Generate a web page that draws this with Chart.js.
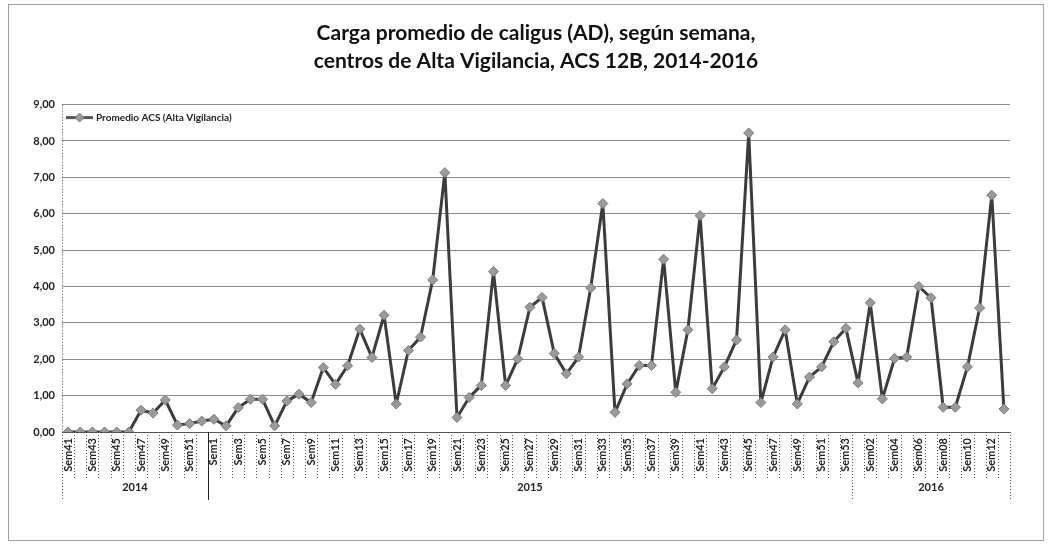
<!DOCTYPE html>
<html>
<head>
<meta charset="utf-8">
<script src="https://cdn.jsdelivr.net/npm/chart.js@4.4.1/dist/chart.umd.min.js"></script>
<style>
  html, body { margin: 0; padding: 0; background: #fff; }
  #wrap { width: 1053px; height: 547px; }
</style>
</head>
<body>
<div id="wrap"><canvas id="lineChart" width="1053" height="547"></canvas></div>
<script>
const WEEKS = [
  'Sem41', 'Sem42', 'Sem43', 'Sem44', 'Sem45', 'Sem46', 'Sem47', 'Sem48', 'Sem49', 'Sem50', 'Sem51', 'Sem52',
  'Sem1', 'Sem2', 'Sem3', 'Sem4', 'Sem5', 'Sem6', 'Sem7', 'Sem8', 'Sem9', 'Sem10', 'Sem11', 'Sem12', 'Sem13',
  'Sem14', 'Sem15', 'Sem16', 'Sem17', 'Sem18', 'Sem19', 'Sem20', 'Sem21', 'Sem22', 'Sem23', 'Sem24', 'Sem25',
  'Sem26', 'Sem27', 'Sem28', 'Sem29', 'Sem30', 'Sem31', 'Sem32', 'Sem33', 'Sem34', 'Sem35', 'Sem36', 'Sem37',
  'Sem38', 'Sem39', 'Sem40', 'Sem41', 'Sem42', 'Sem43', 'Sem44', 'Sem45', 'Sem46', 'Sem47', 'Sem48', 'Sem49',
  'Sem50', 'Sem51', 'Sem52', 'Sem53',
  'Sem01', 'Sem02', 'Sem03', 'Sem04', 'Sem05', 'Sem06', 'Sem07', 'Sem08', 'Sem09', 'Sem10', 'Sem11', 'Sem12', 'Sem13'
];
const YEARS = ['2014', '2015', '2016'];
const WEEKS_PER_YEAR = [12, 53, 13];
const PROMEDIO_ACS = [
  0, 0, 0, 0, 0, 0, 0.60, 0.52, 0.88, 0.19, 0.23, 0.30,
  0.35, 0.17, 0.67, 0.90, 0.90, 0.17, 0.85, 1.04, 0.81, 1.77, 1.31, 1.82, 2.83,
  2.05, 3.21, 0.77, 2.24, 2.61, 4.18, 7.13, 0.40, 0.95, 1.28, 4.41, 1.28,
  2.01, 3.43, 3.70, 2.16, 1.60, 2.06, 3.96, 6.28, 0.54, 1.32, 1.83, 1.83,
  4.75, 1.09, 2.81, 5.95, 1.19, 1.79, 2.53, 8.22, 0.81, 2.06, 2.81, 0.77,
  1.51, 1.79, 2.48, 2.85,
  1.35, 3.55, 0.91, 2.02, 2.06, 4.00, 3.69, 0.68, 0.68, 1.79, 3.41, 6.51, 0.63
];
const Y_TICKS = [0, 1, 2, 3, 4, 5, 6, 7, 8, 9];
const TITLE = ['Carga promedio de caligus (AD), según semana,', 'centros de Alta Vigilancia, ACS 12B, 2014-2016'];
const SERIES_NAME = 'Promedio ACS (Alta Vigilancia)';

const FONT = 'Lato, "Open Sans", sans-serif';

// frame, legend and the two level category axis (weeks / years)
const excelAxis = {
  id: 'excelAxis',
  beforeDraw(chart) {
    const { ctx } = chart;
    ctx.save();
    ctx.fillStyle = '#fff';
    ctx.fillRect(0, 0, chart.width, chart.height);
    ctx.strokeStyle = '#a0a0a0';
    ctx.lineWidth = 1;
    ctx.strokeRect(8.5, 4.5, 1035, 536);
    ctx.restore();
  },
  afterDraw(chart) {
    const { ctx, chartArea } = chart;
    const x = chart.scales.x;
    const step = x.getPixelForValue(1) - x.getPixelForValue(0);
    const edge = i => x.getPixelForValue(i) - step / 2;
    const bottom = chartArea.bottom;
    ctx.save();
    ctx.lineWidth = 1;

    // dotted value axis line
    ctx.strokeStyle = '#444';
    ctx.setLineDash([1, 2]);
    const ax = Math.round(chartArea.left) + 0.5;
    ctx.beginPath(); ctx.moveTo(ax, chartArea.top); ctx.lineTo(ax, bottom); ctx.stroke();

    // week separators
    ctx.strokeStyle = '#555';
    for (let i = 1; i < WEEKS.length; i++) {
      const px = Math.round(edge(i)) + 0.5;
      ctx.beginPath(); ctx.moveTo(px, bottom); ctx.lineTo(px, bottom + 46); ctx.stroke();
    }
    // year groups
    let start = 0;
    const bounds = [0];
    WEEKS_PER_YEAR.forEach(n => { start += n; bounds.push(start); });
    bounds.forEach((b, k) => {
      const px = Math.round(edge(b)) + 0.5;
      ctx.strokeStyle = k === 1 ? '#222' : '#555';
      ctx.setLineDash(k === 1 ? [] : [1, 2]);
      ctx.beginPath(); ctx.moveTo(px, bottom); ctx.lineTo(px, bottom + 68); ctx.stroke();
    });
    ctx.setLineDash([]);
    ctx.fillStyle = '#222';
    ctx.font = 'bold 11px ' + FONT;
    ctx.textAlign = 'center';
    ctx.textBaseline = 'middle';
    YEARS.forEach((yr, k) => {
      const cx = (edge(bounds[k]) + edge(bounds[k + 1])) / 2;
      ctx.fillText(yr, cx, bottom + 55);
    });

    // legend, inside the plot at top left
    const ds = chart.data.datasets[0];
    const lx = chartArea.left + 4, ly = chartArea.top + 13;
    ctx.strokeStyle = '#555'; ctx.lineWidth = 3;
    ctx.beginPath(); ctx.moveTo(lx, ly); ctx.lineTo(lx + 27, ly); ctx.stroke();
    ctx.fillStyle = ds.pointBackgroundColor; ctx.strokeStyle = ds.pointBorderColor; ctx.lineWidth = 1;
    const mx = lx + 13.5;
    ctx.beginPath();
    ctx.moveTo(mx, ly - 4.5); ctx.lineTo(mx + 4.5, ly); ctx.lineTo(mx, ly + 4.5); ctx.lineTo(mx - 4.5, ly);
    ctx.closePath(); ctx.fill(); ctx.stroke();
    ctx.fillStyle = '#222';
    ctx.font = 'bold 10px ' + FONT;
    ctx.textAlign = 'left';
    ctx.fillText(ds.label, lx + 30, ly);
    ctx.restore();
  }
};

new Chart(document.getElementById('lineChart'), {
  type: 'line',
  data: {
    labels: WEEKS,
    datasets: [{
      label: SERIES_NAME,
      data: PROMEDIO_ACS,
      borderColor: '#3c3c3c',
      borderWidth: 3,
      borderJoinStyle: 'round',
      pointStyle: 'rectRot',
      pointRadius: 5,
      pointBackgroundColor: '#9a9a9a',
      pointBorderColor: '#7a7a7a',
      pointBorderWidth: 1,
      tension: 0,
      fill: false
    }]
  },
  options: {
    responsive: false,
    animation: false,
    layout: { padding: { left: 12, right: 43, top: 0, bottom: 0 } },
    plugins: {
      title: {
        display: true,
        fullSize: false,
        text: TITLE,
        color: '#111',
        font: { family: FONT, size: 21, weight: 'bold', lineHeight: 1.3 },
        padding: { top: 20, bottom: 30 }
      },
      legend: { display: false },
      tooltip: { enabled: false }
    },
    scales: {
      x: {
        type: 'category',
        offset: true,
        grid: { display: false, drawTicks: false },
        border: { display: true, color: '#555', width: 1 },
        afterFit(scale) { scale.height = 115; },
        ticks: {
          autoSkip: false,
          minRotation: 90,
          maxRotation: 90,
          padding: 6,
          color: '#222',
          font: { family: FONT, size: 11, weight: 'bold' },
          callback(val, idx) { return idx % 2 === 0 ? WEEKS[idx] : ''; }
        }
      },
      y: {
        min: 0,
        max: 9,
        afterFit(scale) { scale.width = 50; },
        afterBuildTicks(scale) { scale.ticks = Y_TICKS.map(v => ({ value: v })); },
        grid: { color: '#8c8c8c', lineWidth: 1, drawTicks: false },
        border: { display: false },
        ticks: {
          padding: 7,
          color: '#222',
          font: { family: FONT, size: 11, weight: 'bold' },
          callback: v => v.toFixed(2).replace('.', ',')
        }
      }
    }
  },
  plugins: [excelAxis]
});
</script>
</body>
</html>
